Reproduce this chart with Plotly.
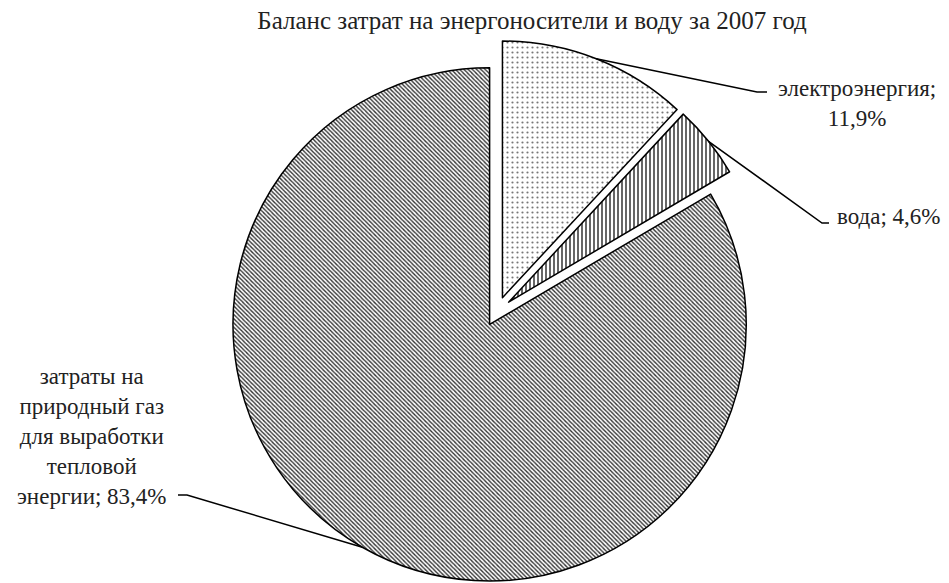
import math
import plotly.graph_objects as go

# ---- data ----
labels = ["электроэнергия", "вода", "затраты на природный газ для выработки тепловой энергии"]
values = [11.9, 4.6, 83.4]
label_texts = ["электроэнергия;<br>11,9%", "вода; 4,6%",
               "затраты на<br>природный газ<br>для выработки<br>тепловой<br>энергии; 83,4%"]
title_text = "Баланс затрат на энергоносители и воду за 2007 год"

# ---- layout geometry (pixels) ----
W, H = 949, 583
ML, MR, MT, MB = 0, 0, 40, 0
PW, PH = W - ML - MR, H - MT - MB
PULL = 0.058
CX = 497
dom_half = 300
domain_x = [(CX - dom_half - ML) / PW, (CX + dom_half - ML) / PW]
domain_y = [0, 1]

# pie geometry as plotly computes it
rx = PW * (domain_x[1] - domain_x[0]) / 2
ry = PH * (domain_y[1] - domain_y[0]) / 2
R = min(rx, ry) / (1 + PULL)
pcx = ML + PW * (domain_x[0] + domain_x[1]) / 2
pcy = MT + PH * (1 - domain_y[0]) - ry


def to_paper(px, py):
    return (px - ML) / PW, 1 - (py - MT) / PH


# anchor points on each slice arc (mid angle), clockwise from 12 o'clock
total = sum(values)
anchors = []
acc = 0
for v in values:
    mid = (acc + v / 2) / total * 2 * math.pi
    acc += v
    dx, dy = math.sin(mid), -math.cos(mid)
    ox, oy = pcx + PULL * R * dx, pcy + PULL * R * dy
    anchors.append((ox + R * dx, oy + R * dy))

# label placements (pixels): text center, elbow point, line end
label_pos = [(857, 103), (889, 217), (92, 436)]
elbows = [((757, 92), (767, 92)), ((822, 223), (829, 223)), ((187, 495), (178, 495))]

FONT = "Liberation Serif, Times New Roman, serif"

fig = go.Figure(go.Pie(
    labels=labels,
    values=values,
    sort=False,
    direction="clockwise",
    rotation=0,
    pull=[PULL] * 3,
    textinfo="none",
    hoverinfo="label+percent",
    showlegend=False,
    domain=dict(x=domain_x, y=domain_y),
    marker=dict(
        colors=["white", "white", "white"],
        line=dict(color="black", width=1.5),
        pattern=dict(
            shape=[".", "|", "\\"],
            size=[5, 4, 3],
            solidity=[0.15, 0.3, 0.45],
            fgcolor=["#777777", "black", "#333333"],
            bgcolor=["white", "white", "white"],
            fillmode="replace",
        ),
    ),
))

shapes = []
for (ax, ay), ((ex, ey), (hx, hy)) in zip(anchors, elbows):
    p0 = to_paper(ax, ay)
    p1 = to_paper(ex, ey)
    p2 = to_paper(hx, hy)
    shapes.append(dict(
        type="path", xref="paper", yref="paper",
        path=f"M {p0[0]},{p0[1]} L {p1[0]},{p1[1]} L {p2[0]},{p2[1]}",
        line=dict(color="black", width=1.5),
    ))

annotations = []
for txt, (lx, ly) in zip(label_texts, label_pos):
    px, py = to_paper(lx, ly)
    annotations.append(dict(
        x=px, y=py, xref="paper", yref="paper", text=txt, showarrow=False,
        xanchor="center", yanchor="middle", align="center",
        font=dict(family=FONT, size=23, color="#222222"),
    ))

fig.update_layout(
    width=W, height=H,
    margin=dict(l=ML, r=MR, t=MT, b=MB),
    paper_bgcolor="white", plot_bgcolor="white",
    title=dict(text=title_text, x=532 / W, xanchor="center", y=1 - 20 / H, yanchor="middle",
               font=dict(family=FONT, size=25, color="#222222")),
    shapes=shapes,
    annotations=annotations,
)

fig.write_html("out.html")
